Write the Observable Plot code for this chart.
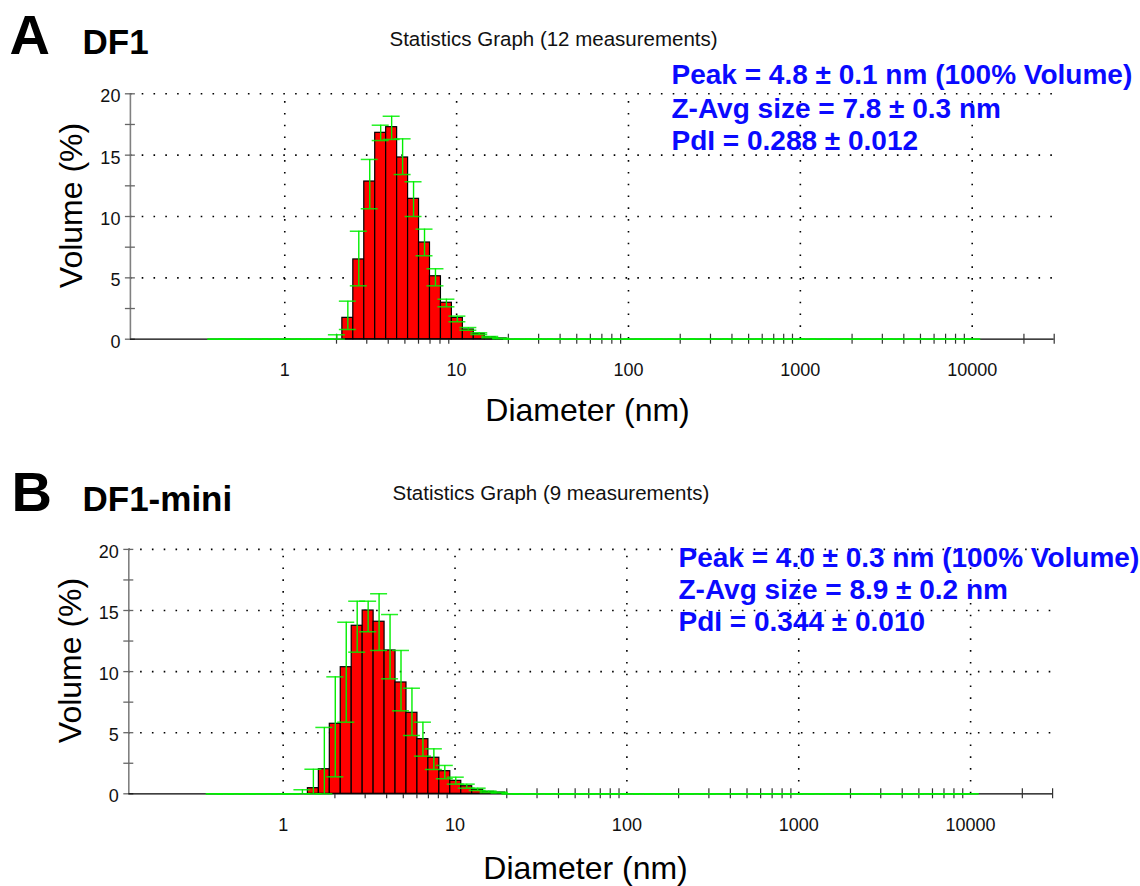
<!DOCTYPE html>
<html>
<head>
<meta charset="utf-8">
<script src="https://cdn.jsdelivr.net/npm/d3@7"></script>
<script src="https://cdn.jsdelivr.net/npm/@observablehq/plot@0.6"></script>
<style>
  html, body { margin: 0; padding: 0; background: #fff; }
  #chart { width: 1140px; height: 886px; }
  #chart svg { display: block; overflow: visible; }
</style>
</head>
<body>
<div id="chart"></div>
<script>
// Size classes (nm) of the DLS volume distribution
const sizeClasses = [0.4, 0.4632, 0.5365, 0.6213, 0.7195, 0.8332, 0.9649, 1.117, 1.294, 1.499,
  1.736, 2.01, 2.328, 2.696, 3.122, 3.615, 4.187, 4.849, 5.615, 6.503,
  7.531, 8.721, 10.1, 11.7, 13.54, 15.69, 18.17, 21.04, 24.36, 28.21,
  32.67, 37.84, 43.82, 50.75, 58.77, 68.06, 78.82, 91.28, 105.7, 122.4,
  141.8, 164.2, 190.1, 220.2, 255.0, 295.3, 342.0, 396.1, 458.7, 531.2,
  615.1, 712.4, 825.0, 955.4, 1106, 1281, 1484, 1718, 1990, 2305,
  2669, 3091, 3580, 4145, 4801, 5560, 6439, 7456, 8635, 10000];

// DF1: mean volume (%) per size class, and lower / upper ends of the error bars
const volumeA = [0,0,0,0,0,0,0,0,0,0, 0,0,1.74,6.50,12.85,16.82,17.28,14.81,11.44,7.88,
  5.13,2.97,1.74,0.79,0.44,0.16,0.06,0,0,0, 0,0,0,0,0,0,0,0,0,0,
  0,0,0,0,0,0,0,0,0,0, 0,0,0,0,0,0,0,0,0,0, 0,0,0,0,0,0,0,0,0,0];
const lowA = [0,0,0,0,0,0,0,0,0,0, 0,0,0.79,4.35,10.63,16.19,16.28,13.42,10.00,6.80,
  4.35,2.64,1.42,0.73,0.38,0.12,0.03,0,0,0, 0,0,0,0,0,0,0,0,0,0,
  0,0,0,0,0,0,0,0,0,0, 0,0,0,0,0,0,0,0,0,0, 0,0,0,0,0,0,0,0,0,0];
const highA = [0,0,0,0,0,0,0,0,0,0, 0,0.36,3.10,8.80,14.65,17.44,18.17,16.33,12.83,8.97,
  5.74,3.26,1.88,0.95,0.52,0.22,0.08,0,0,0, 0,0,0,0,0,0,0,0,0,0,
  0,0,0,0,0,0,0,0,0,0, 0,0,0,0,0,0,0,0,0,0, 0,0,0,0,0,0,0,0,0,0];

// DF1-mini
const volumeB = [0,0,0,0,0,0,0,0,0,0.46, 2.01,5.73,10.36,13.75,15.00,14.08,11.73,9.11,6.63,4.47,
  2.95,1.85,1.06,0.62,0.33,0.16,0.10,0,0,0, 0,0,0,0,0,0,0,0,0,0,
  0,0,0,0,0,0,0,0,0,0, 0,0,0,0,0,0,0,0,0,0, 0,0,0,0,0,0,0,0,0,0];
const lowB = [0,0,0,0,0,0,0,0,0,0, 0,1.39,5.86,11.59,13.26,11.73,9.41,6.79,4.77,3.08,
  1.99,1.23,0.79,0.46,0.27,0.10,0.07,0,0,0, 0,0,0,0,0,0,0,0,0,0,
  0,0,0,0,0,0,0,0,0,0, 0,0,0,0,0,0,0,0,0,0, 0,0,0,0,0,0,0,0,0,0];
const highB = [0,0,0,0,0,0,0,0,0.33,2.01, 5.43,9.57,14.04,15.76,15.76,16.37,14.67,11.73,8.64,5.86,
  3.68,2.32,1.36,0.79,0.46,0.22,0.13,0,0,0, 0,0,0,0,0,0,0,0,0,0,
  0,0,0,0,0,0,0,0,0,0, 0,0,0,0,0,0,0,0,0,0, 0,0,0,0,0,0,0,0,0,0];

// Axes
const xLabels = [1, 10, 100, 1000, 10000];
const xMinorTicks = [2,3,4,5,6,7,8,9, 20,30,40,50,60,70,80,90, 200,300,400,500,600,700,800,900,
  2000,3000,4000,5000,6000,7000,8000,9000, 20000,30000];
const yLabels = [0, 5, 10, 15, 20];
const yTicks = [0, 2.5, 5, 7.5, 10, 12.5, 15, 17.5, 20];
const yGrid = [5, 10, 15, 20];

const FONT = "'Liberation Sans', Arial, Helvetica, sans-serif";
const X_DOMAIN = [0.1264, 30000];
const X_SPAN = 923.8;

function panel(cfg) {
  const {vol, low, high, left, top, bottom, height} = cfg;
  const right = 1140 - left - X_SPAN;

  const rows = sizeClasses.map((s, i) => {
    const prev = sizeClasses[i - 1] ?? s * s / sizeClasses[i + 1];
    const next = sizeClasses[i + 1] ?? s * s / sizeClasses[i - 1];
    return {size: s, x1: Math.sqrt(prev * s), x2: Math.sqrt(s * next),
            vol: vol[i], low: low[i], high: high[i]};
  });
  const bars = rows.filter(d => d.vol > 0);

  // free text placed in SVG pixel coordinates, relative to the frame's top-left corner
  const label = (str, px, py, o = {}) => Plot.text([str], {
    text: d => d, frameAnchor: "top-left", dx: px - left, dy: py - top,
    lineAnchor: "bottom", textAnchor: "start", fontFamily: FONT, fill: "#000", ...o
  });

  const dotted = {stroke: "#000", strokeWidth: 1.6, strokeDasharray: "1.6,10.2"};
  const green = "#00ee00";

  return Plot.plot({
    width: 1140, height,
    marginLeft: left, marginRight: right, marginTop: top, marginBottom: bottom,
    style: {fontFamily: FONT, background: "#fff", overflow: "visible"},
    x: {type: "log", domain: X_DOMAIN, axis: null},
    y: {domain: [0, 20], axis: null},
    marks: [
      // dotted grid
      Plot.ruleY(yGrid, {y: d => d, ...dotted}),
      Plot.ruleX(xLabels, {x: d => d, y1: d => 0, y2: d => 20, ...dotted}),
      // axis lines and ticks
      Plot.ruleX([X_DOMAIN[0]], {x: d => d, y1: d => 0, y2: d => 20, stroke: "#808080", strokeWidth: 1.6}),
      Plot.ruleY(yTicks, {y: d => d, x1: d => X_DOMAIN[0], x2: d => X_DOMAIN[0],
        insetLeft: -5, insetRight: -5, stroke: "#666", strokeWidth: 1.3}),
      Plot.ruleY([0], {y: d => d, stroke: "#000", strokeWidth: 1.3}),
      Plot.ruleX(xMinorTicks, {x: d => d, y1: d => 0, y2: d => 0,
        insetTop: -5, insetBottom: -5, stroke: "#333", strokeWidth: 1.2}),
      // histogram bars
      Plot.rect(bars, {x1: "x1", x2: "x2", y1: d => 0, y2: "vol",
        fill: "#ff0000", stroke: "#000", strokeWidth: 1.2}),
      // error bars
      Plot.ruleX(rows, {x: "size", y1: "low", y2: "high", stroke: green, strokeWidth: 1.4}),
      Plot.ruleY(rows, {y: "low", x1: "size", x2: "size", insetLeft: -8.5, insetRight: -8.5,
        stroke: green, strokeWidth: 1.5, strokeOpacity: 0.85}),
      Plot.ruleY(rows, {y: "high", x1: "size", x2: "size", insetLeft: -8.5, insetRight: -8.5,
        stroke: green, strokeWidth: 1.5, strokeOpacity: 0.85}),
      // tick labels
      Plot.text(yLabels, {x: d => X_DOMAIN[0], y: d => d, text: d => String(d), dx: -10, dy: 8.5,
        textAnchor: "end", lineAnchor: "bottom", fontSize: 18, fill: "#111"}),
      Plot.text(xLabels, {x: d => d, y: d => 0, text: d => String(d), dy: cfg.xLabelDy,
        textAnchor: "middle", lineAnchor: "bottom", fontSize: 18, fill: "#111"}),
      // axis titles
      label("Diameter (nm)", cfg.xTitle[0], cfg.xTitle[1], {textAnchor: "middle", fontSize: 32}),
      label("Volume (%)", cfg.yTitle[0], cfg.yTitle[1], {textAnchor: "middle", fontSize: 32, rotate: -90}),
      // headings
      label(cfg.letter, cfg.letterPos[0], cfg.letterPos[1], {fontSize: 56, fontWeight: "bold"}),
      label(cfg.name, 82, cfg.letterPos[1], {fontSize: 35, fontWeight: "bold"}),
      label(cfg.subtitle, cfg.subtitlePos[0], cfg.subtitlePos[1], {fontSize: 20.5, fill: "#111"}),
      ...cfg.stats.map((s, i) => label(s, cfg.statsPos[0], cfg.statsPos[1][i],
        {fontSize: 28, fontWeight: "bold", fill: "#0a0aff"}))
    ]
  });
}

const chart = document.getElementById("chart");

chart.append(panel({
  vol: volumeA, low: lowA, high: highA,
  left: 129.9, top: 93.3, bottom: 443 - 338.7, height: 443,
  letter: "A", letterPos: [9, 53], name: "DF1",
  subtitle: "Statistics Graph (12 measurements)", subtitlePos: [389, 45],
  stats: ["Peak = 4.8 ± 0.1 nm (100% Volume)", "Z-Avg size = 7.8 ± 0.3 nm", "PdI = 0.288 ± 0.012"],
  statsPos: [671, [83.5, 117.5, 149.5]],
  xLabelDy: 36.5, xTitle: [587, 420], yTitle: [82, 205]
}));

chart.append(panel({
  vol: volumeB, low: lowB, high: highB,
  left: 128.3, top: 548.9 - 443, bottom: 886 - 793.3, height: 443,
  letter: "B", letterPos: [11, 67], name: "DF1-mini",
  subtitle: "Statistics Graph (9 measurements)", subtitlePos: [392, 56],
  stats: ["Peak = 4.0 ± 0.3 nm (100% Volume)", "Z-Avg size = 8.9 ± 0.2 nm", "PdI = 0.344 ± 0.010"],
  statsPos: [678, [123.7, 155.3, 187]],
  xLabelDy: 36.7, xTitle: [585, 435], yTitle: [80, 217]
}));
</script>
</body>
</html>
